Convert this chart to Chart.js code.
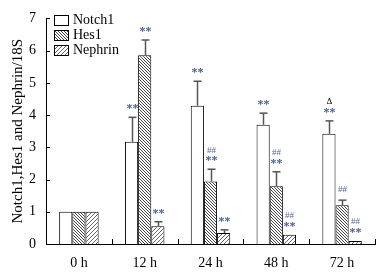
<!DOCTYPE html>
<html>
<head>
<meta charset="utf-8">
<script src="https://cdn.jsdelivr.net/npm/chart.js@4"></script>
<style>
  html, body { margin: 0; padding: 0; background: #fff; }
  #wrap { width: 379px; height: 278px; }
</style>
</head>
<body>
<div id="wrap"><canvas id="chartCanvas"></canvas></div>
<script>
// data
const categories = ['0 h', '12 h', '24 h', '48 h', '72 h'];
const seriesNames = ['Notch1', 'Hes1', 'Nephrin'];
const notch1 = [1, 3.17, 4.29, 3.70, 3.42];
const hes1 = [1, 5.86, 1.94, 1.79, 1.20];
const nephrin = [1, 0.55, 0.34, 0.29, 0.09];
// upper end of error bars
const notch1Err = [1, 3.93, 5.05, 4.06, 3.82];
const hes1Err = [1, 6.33, 2.32, 2.24, 1.36];
const nephrinErr = [1, 0.69, 0.44, 0.29, 0.09];
// significance marks, listed bottom to top
const notch1Marks = [[], ['**'], ['**'], ['**'], ['**', 'Δ']];
const hes1Marks = [[], ['**'], ['**', '##'], ['**', '##'], ['##']];
const nephrinMarks = [[], ['**'], ['**'], ['**', '##'], ['**', '##']];
const yTicks = [0, 1, 2, 3, 4, 5, 6, 7];

const ctx = document.getElementById('chartCanvas').getContext('2d');
const serif = "'Liberation Serif', 'DejaVu Serif', serif";

function hatch(p, dir, color, lw) {
  const c = document.createElement('canvas');
  c.width = p; c.height = p;
  const g = c.getContext('2d');
  g.fillStyle = '#fff';
  g.fillRect(0, 0, p, p);
  g.strokeStyle = color;
  g.lineWidth = lw;
  for (const o of [-p, 0, p]) {
    g.beginPath();
    if (dir > 0) { g.moveTo(o, p); g.lineTo(o + p, 0); }
    else { g.moveTo(o, 0); g.lineTo(o + p, p); }
    g.stroke();
  }
  return ctx.createPattern(c, 'repeat');
}

const fills = ['#ffffff', hatch(3, -1, '#444', 1), hatch(4, 1, '#666', 1)];
const errs = [notch1Err, hes1Err, nephrinErr];
const marks = [notch1Marks, hes1Marks, nephrinMarks];

const extrasPlugin = {
  id: 'extras',
  afterDatasetsDraw: (chart) => {
    const { ctx, chartArea: { left, top, bottom }, scales: { x, y } } = chart;
    ctx.save();

    // inward ticks
    ctx.strokeStyle = '#000';
    ctx.lineWidth = 1;
    yTicks.forEach(v => {
      const py = Math.round(y.getPixelForValue(v)) + 0.5;
      ctx.beginPath(); ctx.moveTo(left, py); ctx.lineTo(left + 4, py); ctx.stroke();
    });
    for (let i = 1; i <= categories.length; i++) {
      const px = Math.round(x.getPixelForValue(i - 0.5)) + 0.5;
      ctx.beginPath(); ctx.moveTo(px, bottom); ctx.lineTo(px, bottom - 5); ctx.stroke();
    }

    // error bars and marks
    chart.data.datasets.forEach((ds, di) => {
      const meta = chart.getDatasetMeta(di);
      meta.data.forEach((bar, i) => {
        const bx = Math.round(bar.x) + 0.5;
        const topVal = errs[di][i];
        let yTop = y.getPixelForValue(topVal);
        if (topVal > ds.data[i] + 0.01) {
          ctx.strokeStyle = '#555';
          ctx.lineWidth = 1.5;
          ctx.beginPath(); ctx.moveTo(bx, bar.y); ctx.lineTo(bx, yTop); ctx.stroke();
          ctx.beginPath(); ctx.moveTo(bx - 4, yTop); ctx.lineTo(bx + 4, yTop); ctx.stroke();
        }
        let my = Math.min(yTop, bar.y) - 11;
        marks[di][i].forEach((m, k) => {
          ctx.textAlign = 'center';
          ctx.textBaseline = 'middle';
          if (m === '**') {
            ctx.font = 'bold 12px ' + serif;
            ctx.fillStyle = '#4b5f8f';
            ctx.fillText(m, bx, my + 3);
          } else if (m === '##') {
            ctx.font = '9px ' + serif;
            ctx.fillStyle = '#5a6a9a';
            ctx.fillText(m, bx, my);
          } else {
            ctx.font = '9px ' + serif;
            ctx.fillStyle = '#000';
            ctx.fillText(m, bx, my);
          }
          my -= 8;
        });
      });
    });

    // legend
    ctx.font = '14px ' + serif;
    ctx.textAlign = 'left';
    ctx.textBaseline = 'middle';
    seriesNames.forEach((name, i) => {
      const ly = 20 + i * 15;
      ctx.fillStyle = fills[i];
      ctx.fillRect(54, ly - 5, 14, 10);
      ctx.strokeStyle = '#000';
      ctx.lineWidth = 1;
      ctx.strokeRect(54.5, ly - 4.5, 14, 10);
      ctx.fillStyle = '#000';
      ctx.fillText(name, 73, ly);
    });
    ctx.restore();
  }
};

new Chart(ctx, {
  type: 'bar',
  data: {
    labels: categories,
    datasets: [notch1, hes1, nephrin].map((d, i) => ({
      label: seriesNames[i],
      data: d,
      backgroundColor: fills[i],
      borderColor: '#000',
      borderWidth: 1,
      borderSkipped: 'bottom',
      barPercentage: 1,
      categoryPercentage: 0.6
    }))
  },
  options: {
    responsive: true,
    maintainAspectRatio: false,
    animation: false,
    layout: { padding: { top: 13, right: 4, left: 0, bottom: 0 } },
    scales: {
      x: {
        grid: { display: false, drawTicks: false },
        border: { display: true, color: '#000', width: 1 },
        ticks: { color: '#000', padding: 11, font: { family: serif, size: 14 } },
        afterFit: (s) => { s.height = 34; }
      },
      y: {
        min: 0,
        max: 7,
        grid: { display: false, drawTicks: false },
        border: { display: true, color: '#000', width: 1 },
        ticks: { stepSize: 1, color: '#000', padding: 10, font: { family: serif, size: 14 } },
        title: {
          display: true,
          text: 'Notch1,Hes1 and Nephrin/18S',
          color: '#000',
          font: { family: serif, size: 15 },
          padding: { top: 9, bottom: 0 }
        },
        afterFit: (s) => { s.width = 46; }
      }
    },
    plugins: {
      legend: { display: false },
      tooltip: { enabled: false }
    }
  },
  plugins: [extrasPlugin]
});
</script>
</body>
</html>
